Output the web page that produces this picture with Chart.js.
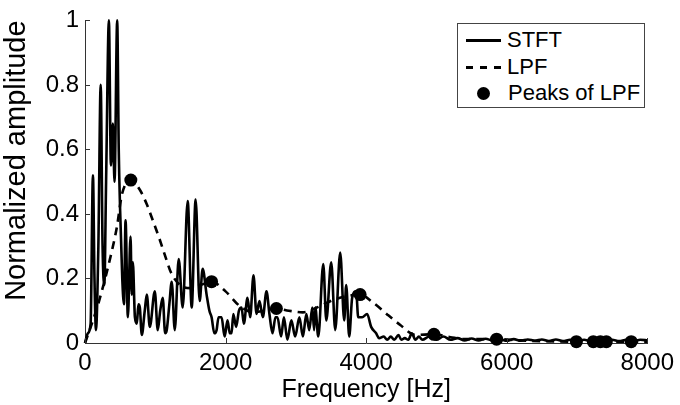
<!DOCTYPE html>
<html>
<head>
<meta charset="utf-8">
<script src="https://cdn.jsdelivr.net/npm/chart.js@4/dist/chart.umd.min.js"></script>
<style>
  html, body { margin: 0; padding: 0; background: #fff; }
  #wrap { position: relative; width: 680px; height: 405px; }
  #legend { position: absolute; left: 457px; top: 23px; width: 186px; height: 83px;
    border: 1px solid #444; background: #fff; font-family: 'Liberation Sans', Arial, sans-serif;
    font-size: 22px; color: #000; }
  .row { position: absolute; left: 0; height: 26px; width: 100%; }
  .row span.t { position: absolute; left: 49px; top: 50%; transform: translateY(-50%); white-space: nowrap; }
  .solid { position: absolute; left: 8px; width: 35px; top: 50%; border-top: 3px solid #000; margin-top: -1.5px; }
  .dash { position: absolute; top: 50%; width: 7px; border-top: 3px solid #000; margin-top: -1.5px; }
  .dot { position: absolute; left: 19px; top: 50%; width: 13px; height: 13px; margin-top: -6.5px; border-radius: 50%; background: #000; }
</style>
</head>
<body>
<div id="wrap">
  <canvas id="c" width="680" height="405"></canvas>
  <div id="legend">
    <div class="row" style="top:3px"><div class="solid"></div><span class="t">STFT</span></div>
    <div class="row" style="top:30px"><div class="dash" style="left:8px"></div><div class="dash" style="left:22px"></div><div class="dash" style="left:36px"></div><span class="t">LPF</span></div>
    <div class="row" style="top:56px"><div class="dot"></div><span class="t" style="left:50px">Peaks of LPF</span></div>
  </div>
</div>
<script>
// ---- Data ----
const stftFreq = [0, 40, 80, 113, 135, 156, 190, 223, 250, 275, 300, 340, 369, 397, 420, 458, 480, 500, 530, 555,
  577, 610, 648, 665, 681, 710, 738, 760, 780, 808, 850, 879, 922, 993, 1035, 1070, 1106, 1140, 1163, 1200,
  1234, 1277, 1333, 1390, 1461, 1518, 1574, 1631, 1674, 1730, 1770, 1801, 1840, 1872, 1900, 1943, 1986, 2028, 2060, 2085,
  2110, 2150, 2190, 2227, 2260, 2312, 2350, 2397, 2440, 2482, 2530, 2582, 2624, 2667, 2710, 2738, 2790, 2830, 2879, 2936,
  2990, 3050, 3100, 3149, 3190, 3234, 3260, 3277, 3319, 3390, 3433, 3503, 3560, 3631, 3688, 3716, 3759, 3801, 3858, 3887,
  3943, 4014, 4071, 4142, 4184, 4250, 4300, 4350, 4400, 4460, 4500, 4550, 4600, 4650, 4700, 4750, 4800, 4900, 5000, 5100,
  5200, 5300, 5400, 5500, 5600, 5700, 5800, 5900, 6000, 6100, 6200, 6300, 6400, 6500, 6600, 6700, 6800, 6900, 7000, 7100,
  7200, 7300, 7400, 7500, 7600, 7700, 7800, 7900, 8000];
const stftAmp = [0.0, 0.03, 0.06, 0.52, 0.2, 0.04, 0.3, 0.80, 0.3, 0.18, 0.5, 1.0, 0.55, 0.68, 0.5, 1.0, 0.6, 0.41, 0.2, 0.12,
  0.38, 0.08, 0.33, 0.15, 0.25, 0.08, 0.06, 0.12, 0.11, 0.025, 0.1, 0.15, 0.05, 0.16, 0.04, 0.1, 0.14, 0.03, 0.04, 0.12,
  0.19, 0.04, 0.26, 0.11, 0.44, 0.11, 0.445, 0.13, 0.23, 0.15, 0.1, 0.08, 0.03, 0.04, 0.08, 0.08, 0.02, 0.07, 0.03, 0.03,
  0.09, 0.05, 0.1, 0.11, 0.06, 0.14, 0.08, 0.21, 0.09, 0.13, 0.08, 0.16, 0.09, 0.03, 0.08, 0.08, 0.02, 0.08, 0.01, 0.07,
  0.02, 0.08, 0.02, 0.09, 0.04, 0.11, 0.04, 0.11, 0.02, 0.245, 0.07, 0.25, 0.04, 0.28, 0.07, 0.18, 0.02, 0.14, 0.16, 0.08,
  0.08, 0.09, 0.05, 0.03, 0.015, 0.02, 0.01, 0.02, 0.01, 0.025, 0.01, 0.015, 0.01, 0.03, 0.01, 0.02, 0.01, 0.02, 0.01, 0.02,
  0.01, 0.015, 0.008, 0.014, 0.008, 0.013, 0.008, 0.012, 0.007, 0.012, 0.007, 0.011, 0.007, 0.011, 0.006, 0.011, 0.006, 0.01, 0.006, 0.01,
  0.006, 0.01, 0.006, 0.01, 0.006, 0.01, 0.006, 0.01, 0.008];

const lpfFreq = [0, 113, 200, 355, 454, 525, 652, 780, 879, 965, 1064, 1163, 1220, 1350, 1500, 1650, 1801, 2000, 2200, 2400,
  2550, 2723, 2900, 3100, 3300, 3550, 3914, 4100, 4320, 4490, 4700, 4964, 5200, 5400, 5856, 6200, 6991, 7232, 7332, 7417, 7771, 8000];
const lpfAmp = [0.0, 0.07, 0.13, 0.26, 0.36, 0.46, 0.505, 0.475, 0.43, 0.38, 0.32, 0.255, 0.22, 0.18, 0.17, 0.18, 0.19, 0.16, 0.115, 0.095,
  0.1, 0.107, 0.1, 0.095, 0.11, 0.135, 0.15, 0.125, 0.085, 0.055, 0.025, 0.027, 0.018, 0.012, 0.012, 0.008, 0.004, 0.004, 0.004, 0.004, 0.004, 0.004];

const peakFreq = [652, 1801, 2723, 3914, 4964, 5856, 6991, 7232, 7332, 7417, 7771];
const peakAmp = [0.505, 0.19, 0.107, 0.15, 0.027, 0.012, 0.004, 0.004, 0.004, 0.004, 0.004];

const xTicks = [0, 2000, 4000, 6000, 8000];
const yTicks = [0, 0.2, 0.4, 0.6, 0.8, 1];

const pts = (xs, ys) => xs.map((x, i) => ({ x: x, y: ys[i] }));

const FONT = "'Liberation Sans', Arial, sans-serif";

const inwardTicks = {
  id: 'inwardTicks',
  afterDatasetsDraw(chart) {
    const ctx = chart.ctx, a = chart.chartArea;
    const xs = chart.scales.x, ys = chart.scales.y;
    ctx.save();
    ctx.strokeStyle = '#333';
    ctx.lineWidth = 1;
    ctx.beginPath();
    xTicks.forEach(v => { const px = Math.round(xs.getPixelForValue(v)) + 0.5; ctx.moveTo(px, a.bottom); ctx.lineTo(px, a.bottom - 5); });
    yTicks.forEach(v => { const py = Math.round(ys.getPixelForValue(v)) + 0.5; ctx.moveTo(a.left, py); ctx.lineTo(a.left + 5, py); });
    ctx.stroke();
    ctx.restore();
  }
};

new Chart(document.getElementById('c'), {
  type: 'scatter',
  data: {
    datasets: [
      { label: 'STFT', data: pts(stftFreq, stftAmp), showLine: true, borderColor: '#000', borderWidth: 2.6,
        pointRadius: 0, cubicInterpolationMode: 'monotone', clip: false, order: 2 },
      { label: 'LPF', data: pts(lpfFreq, lpfAmp), showLine: true, borderColor: '#000', borderWidth: 2.6,
        borderDash: [8, 6], pointRadius: 0, cubicInterpolationMode: 'monotone', clip: false, order: 1 },
      { label: 'Peaks of LPF', data: pts(peakFreq, peakAmp), showLine: false, pointRadius: 6.5,
        pointBackgroundColor: '#000', pointBorderColor: '#000', pointBorderWidth: 0, clip: false, order: 0 }
    ]
  },
  options: {
    responsive: false,
    animation: false,
    devicePixelRatio: 1,
    layout: { padding: { top: 17, right: 30, left: 0, bottom: 0 } },
    plugins: { legend: { display: false }, tooltip: { enabled: false } },
    scales: {
      x: {
        type: 'linear', min: 0, max: 8000,
        afterFit: s => { s.height = 62; },
        afterBuildTicks: s => { s.ticks = xTicks.map(v => ({ value: v })); },
        ticks: { color: '#000', font: { family: FONT, size: 24 }, padding: 6, maxRotation: 0,
          callback: v => String(v) },
        grid: { display: true, drawOnChartArea: false, drawTicks: false },
        border: { display: true, color: '#333', width: 1 },
        title: { display: true, text: 'Frequency [Hz]', color: '#000', font: { family: FONT, size: 25 }, padding: { top: 0, bottom: 0 } }
      },
      y: {
        type: 'linear', min: 0, max: 1,
        afterFit: s => { s.width = 85; },
        afterBuildTicks: s => { s.ticks = yTicks.map(v => ({ value: v })); },
        ticks: { color: '#000', font: { family: FONT, size: 24 }, padding: 6,
          callback: v => String(Math.round(v * 10) / 10) },
        grid: { display: true, drawOnChartArea: false, drawTicks: false },
        border: { display: true, color: '#333', width: 1 },
        title: { display: true, text: 'Normalized amplitude', align: 'end', color: '#000', font: { family: FONT, size: 29 }, padding: { top: 0, bottom: 0 } }
      }
    }
  },
  plugins: [inwardTicks]
});
</script>
</body>
</html>
